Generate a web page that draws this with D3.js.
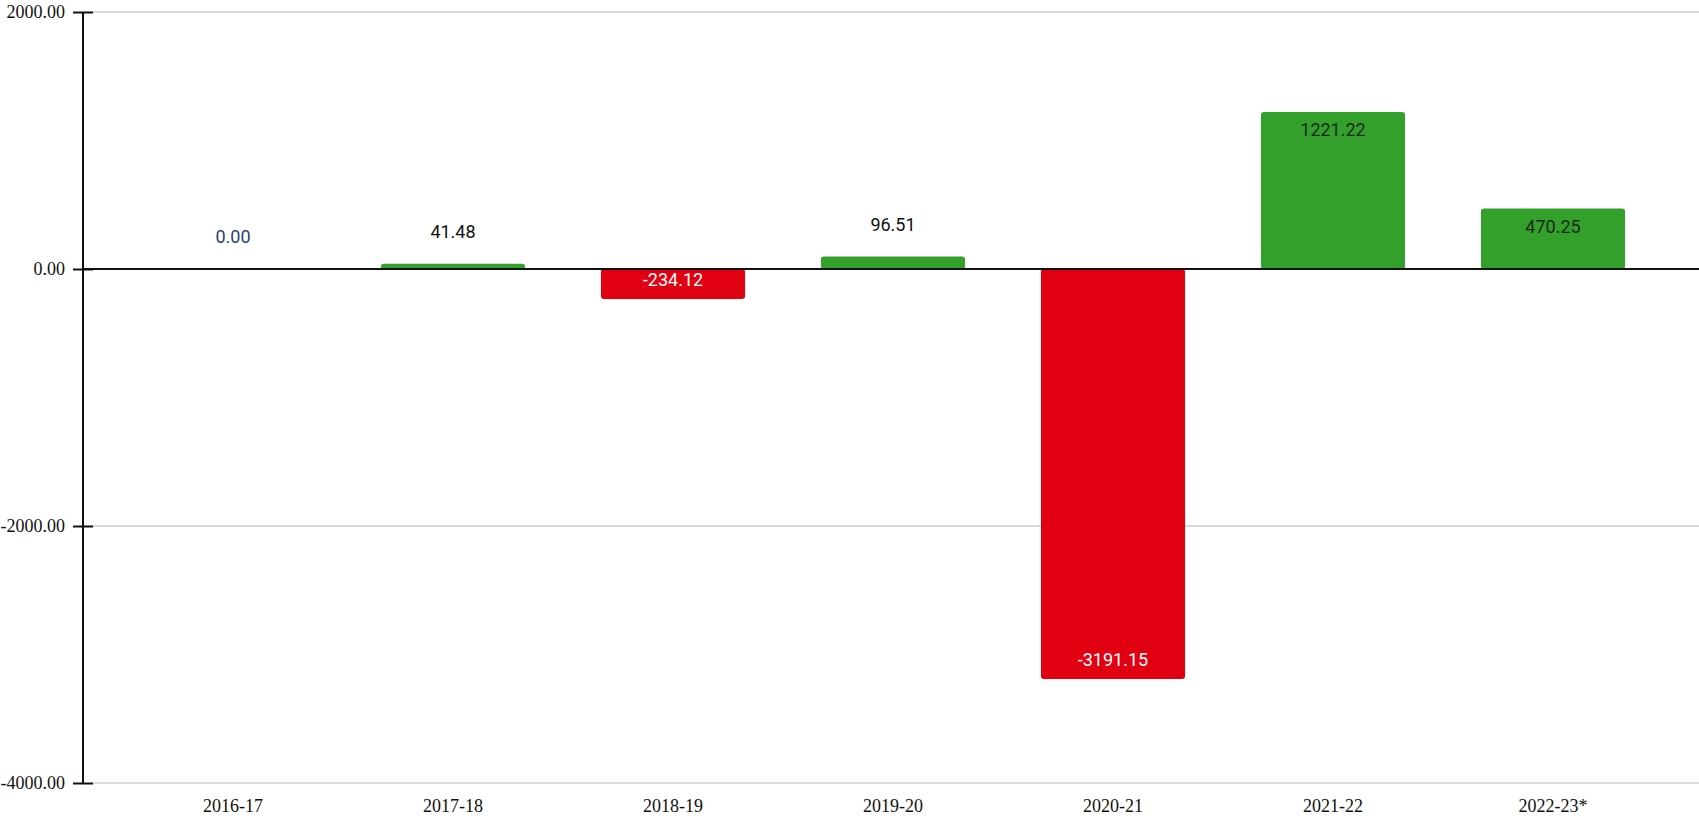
<!DOCTYPE html>
<html>
<head>
<meta charset="utf-8">
<script src="https://cdn.jsdelivr.net/npm/d3@7"></script>
<style>
  html, body { margin: 0; padding: 0; background: #fff; }
  svg { display: block; }
</style>
</head>
<body>
<div id="chart"></div>
<script>
// data
const years = ["2016-17", "2017-18", "2018-19", "2019-20", "2020-21", "2021-22", "2022-23*"];
const values = [0.00, 41.48, -234.12, 96.51, -3191.15, 1221.22, 470.25];
const yTicks = [2000, 0, -2000, -4000];

const width = 1699, height = 820;

// plain hyphen for negatives, like the original
const fmt = d3.formatLocale({ decimal: ".", thousands: "", grouping: [3], currency: ["", ""], minus: "-" }).format(".2f");

const svg = d3.select("#chart").append("svg")
  .attr("width", width)
  .attr("height", height);

const x = d3.scaleBand()
  .domain(years)
  .range([123, 1663])
  .paddingInner(0.345)
  .paddingOuter(0.1725);

const y = d3.scaleLinear()
  .domain([-4000, 2000])
  .range([783, 12]);

const axisX = 83;

// gridlines
svg.append("g")
  .selectAll("line")
  .data(yTicks.filter(d => d !== 0))
  .join("line")
  .attr("x1", axisX + 9)
  .attr("x2", width)
  .attr("y1", d => y(d))
  .attr("y2", d => y(d))
  .attr("stroke", "#b8b8b8")
  .attr("stroke-width", 1);

// y axis
const yAxis = svg.append("g")
  .attr("transform", `translate(${axisX},0)`)
  .call(d3.axisLeft(y).tickValues(yTicks).tickFormat(fmt).tickSize(10).tickPadding(8));

yAxis.select(".domain").remove();
yAxis.append("line")
  .attr("y1", y(2000))
  .attr("y2", y(-4000))
  .attr("stroke", "#111")
  .attr("stroke-width", 2);
yAxis.selectAll(".tick line")
  .attr("x1", -10)
  .attr("x2", 10)
  .attr("stroke", "#111")
  .attr("stroke-width", 2);
yAxis.selectAll(".tick text")
  .attr("font-family", "'Liberation Serif', 'Times New Roman', serif")
  .attr("font-size", 18)
  .attr("fill", "#111");

// bars
svg.append("g")
  .selectAll("rect")
  .data(values.map((v, i) => ({ year: years[i], value: v })))
  .join("rect")
  .attr("x", d => x(d.year))
  .attr("width", x.bandwidth())
  .attr("y", d => y(Math.max(0, d.value)))
  .attr("height", d => Math.abs(y(d.value) - y(0)))
  .attr("rx", 3)
  .attr("fill", d => d.value >= 0 ? "#34a02c" : "#e00012");

// zero line
svg.append("line")
  .attr("x1", axisX)
  .attr("x2", width)
  .attr("y1", y(0))
  .attr("y2", y(0))
  .attr("stroke", "#111")
  .attr("stroke-width", 2);

// value labels
svg.append("g")
  .selectAll("text")
  .data(values.map((v, i) => ({ year: years[i], value: v })))
  .join("text")
  .attr("x", d => x(d.year) + x.bandwidth() / 2)
  .attr("y", d => {
    const h = Math.abs(y(d.value) - y(0));
    if (d.value < 0) return h > 30 ? y(d.value) - 13 : y(0) + 22;
    return h > 40 ? y(d.value) + 24 : y(d.value) - 26;
  })
  .attr("text-anchor", "middle")
  .attr("font-family", "Roboto, sans-serif")
  .attr("font-size", 18)
  .attr("fill", d => {
    const h = Math.abs(y(d.value) - y(0));
    if (d.value < 0) return "#fff";
    if (d.value === 0) return "#2b3f6c";
    return h > 40 ? "#1a2a1a" : "#111";
  })
  .text(d => fmt(d.value));

// x labels
svg.append("g")
  .selectAll("text")
  .data(years)
  .join("text")
  .attr("x", d => x(d) + x.bandwidth() / 2)
  .attr("y", 812)
  .attr("text-anchor", "middle")
  .attr("font-family", "'Liberation Serif', 'Times New Roman', serif")
  .attr("font-size", 18)
  .attr("fill", "#111")
  .text(d => d);
</script>
</body>
</html>
